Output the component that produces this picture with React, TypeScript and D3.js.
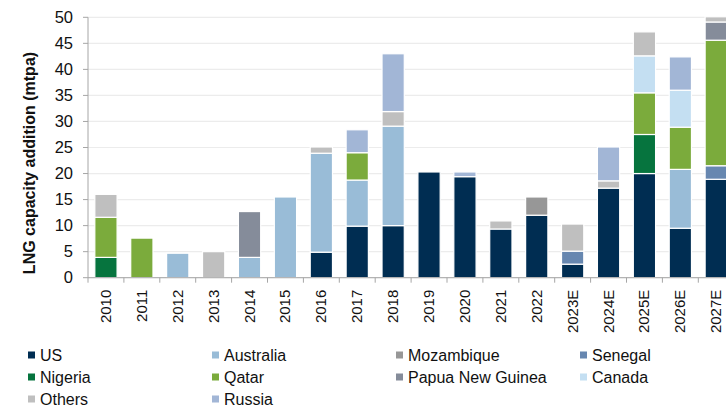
import React from "react";
import * as d3 from "d3";

const years = ["2010","2011","2012","2013","2014","2015","2016","2017","2018","2019","2020","2021","2022","2023E","2024E","2025E","2026E","2027E"];
const seriesNames = ["US","Nigeria","Senegal","Australia","Qatar","Mozambique","Papua New Guinea","Canada","Others","Russia"];
const US =          [0,0,0,0,0,0,4.9,9.9,10.0,20.3,19.4,9.35,12.0,2.6,17.2,20.0,9.5,18.9];
const Nigeria =     [3.9,0,0,0,0,0,0,0,0,0,0,0,0,0,0,7.5,0,0];
const Senegal =     [0,0,0,0,0,0,0,0,0,0,0,0,0,2.5,0,0,0,2.6];
const Australia =   [0,0,4.7,0,3.9,15.5,19.0,8.85,19.1,0,0,0,0,0,0,0,11.3,0];
const Qatar =       [7.7,7.6,0,0,0,0,0,5.25,0,0,0,0,0,0,0,8.0,8.1,24.1];
const Mozambique =  [0,0,0,0,0,0,0,0,0,0,0,0,3.5,0,0,0,0,0];
const PNG =         [0,0,0,0,8.8,0,0,0,0,0,0,0,0,0,0,0,0,3.5];
const Canada =      [0,0,0,0,0,0,0,0,0,0,0,0,0,0,0,7.1,7.1,0];
const Others =      [4.4,0,0,5.0,0,0,1.2,0,2.8,0,0,1.55,0,5.2,1.4,4.6,0,1.0];
const Russia =      [0,0,0,0,0,0,0,4.4,11.1,0,0.9,0,0,0,6.5,0,6.4,0];
const yTicks = [0,5,10,15,20,25,30,35,40,45,50];
const legendOrder = ["US","Australia","Mozambique","Senegal","Nigeria","Qatar","Papua New Guinea","Canada","Others","Russia"];

const colors: Record<string,string> = {
  "US": "#002d52",
  "Nigeria": "#06743e",
  "Senegal": "#6787b0",
  "Australia": "#99bcd7",
  "Qatar": "#7bab3c",
  "Mozambique": "#979797",
  "Papua New Guinea": "#858c9a",
  "Canada": "#c4dff2",
  "Others": "#bfbfbf",
  "Russia": "#a2b6d6",
};

const seriesValues: Record<string, number[]> = {
  "US": US, "Nigeria": Nigeria, "Senegal": Senegal, "Australia": Australia, "Qatar": Qatar,
  "Mozambique": Mozambique, "Papua New Guinea": PNG, "Canada": Canada, "Others": Others, "Russia": Russia,
};

export default function App() {
  const W = 726, H = 408;
  const left = 88, top = 17.3, bottom = 277.7;
  const step = 35.9;
  const x = d3.scaleBand<string>().domain(years).range([left, left + step * years.length]).paddingInner(0.38).paddingOuter(0.19);
  const y = d3.scaleLinear().domain([0, 50]).range([bottom, top]);

  const table = years.map((yr, i) => {
    const row: any = { year: yr };
    seriesNames.forEach((s) => (row[s] = seriesValues[s][i]));
    return row;
  });
  const stacked = d3.stack<any>().keys(seriesNames)(table);
  const font = "Arial, 'Liberation Sans', sans-serif";

  return (
    <svg width={W} height={H} style={{ position: "absolute", left: 0, top: 0, background: "#fff" }} fontFamily={font}>
      {yTicks.map((t) => (
        <line key={"g" + t} x1={left} x2={W} y1={y(t)} y2={y(t)} stroke="#ececec" strokeWidth={1.2} />
      ))}
      {stacked.map((layer) => (
        <g key={layer.key} fill={colors[layer.key]}>
          {layer.map((d, i) =>
            d[1] - d[0] > 0 ? (
              <rect key={i} x={x(years[i])!} y={y(d[1])} width={x.bandwidth()} height={y(d[0]) - y(d[1])}
                stroke="#fff" strokeWidth={1.2} />
            ) : null
          )}
        </g>
      ))}
      <line x1={left} x2={left} y1={top} y2={bottom} stroke="#a6a6a6" strokeWidth={1} />
      <line x1={left} x2={W} y1={bottom} y2={bottom} stroke="#a6a6a6" strokeWidth={1} />
      {yTicks.map((t) => (
        <g key={"yt" + t}>
          <line x1={left - 5} x2={left} y1={y(t)} y2={y(t)} stroke="#a6a6a6" />
          <text x={left - 15} y={y(t)} dy="0.35em" textAnchor="end" fontSize={16.5} fill="#111">{t}</text>
        </g>
      ))}
      {years.map((yr, i) => {
        const xs = left + step * i;
        return <line key={"xt" + i} x1={xs} x2={xs} y1={bottom} y2={bottom + 5} stroke="#a6a6a6" />;
      })}
      {years.map((yr) => {
        const cx = x(yr)! + x.bandwidth() / 2;
        return (
          <text key={"xl" + yr} transform={`translate(${cx + 5},${bottom + 12}) rotate(-90)`} textAnchor="end" fontSize={15} fill="#111">{yr}</text>
        );
      })}
      <text transform={`translate(34.5,${(48 + 278) / 2}) rotate(-90)`} textAnchor="middle" fontSize={16} fontWeight="bold" fill="#111">
        LNG capacity addition (mtpa)
      </text>
      {legendOrder.map((s, i) => {
        const col = i % 4, row = Math.floor(i / 4);
        const lx = [28, 212, 396, 580][col];
        const ly = 355 + row * 22;
        return (
          <g key={"lg" + s}>
            <rect x={lx} y={ly - 3.5} width={7} height={7} fill={colors[s]} />
            <text x={lx + 12} y={ly} dy="0.35em" fontSize={16} fill="#111">{s}</text>
          </g>
        );
      })}
    </svg>
  );
}
